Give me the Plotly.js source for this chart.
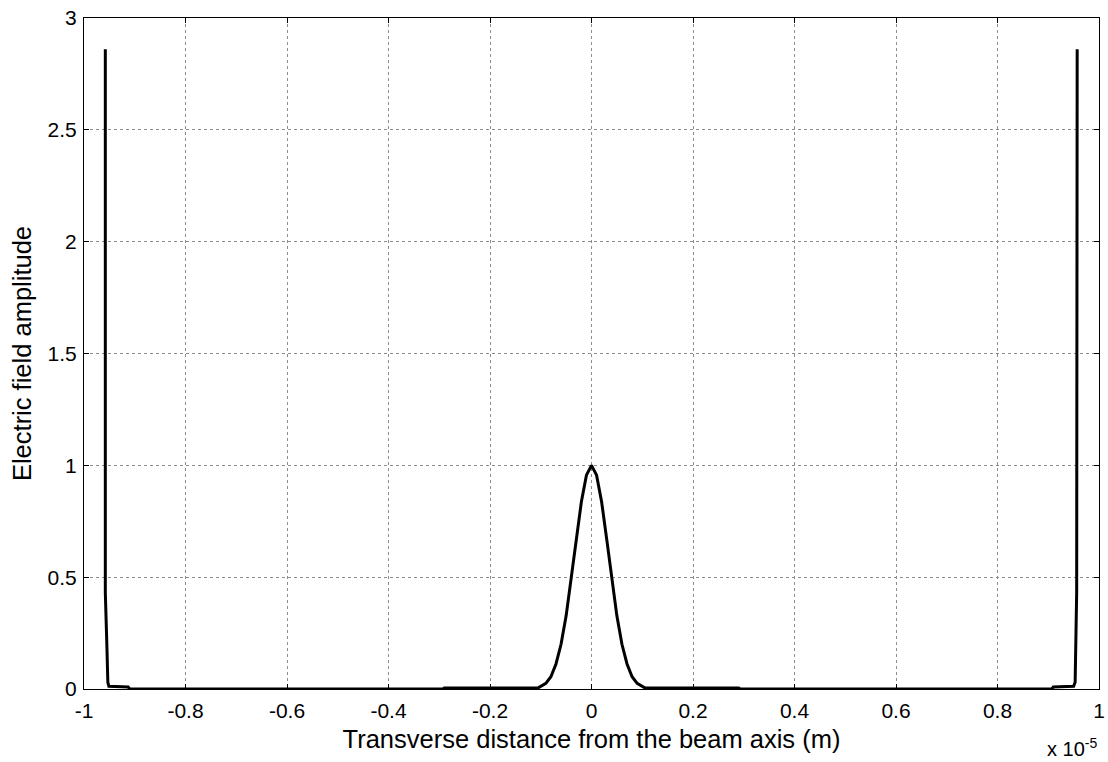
<!DOCTYPE html>
<html>
<head>
<meta charset="utf-8">
<script src="https://cdn.plot.ly/plotly-3.0.1.min.js"></script>
<style>html,body{margin:0;padding:0;background:#fff;}#chart{width:1108px;height:762px;}</style>
</head>
<body>
<div id="chart"></div>
<script>
// Transverse distance in units of 1e-5 m
const xValues = [
  -0.958, -0.958, -0.955, -0.953, -0.951, -0.930, -0.913, -0.910,
  -0.293, -0.290, -0.200, -0.105,
  -0.090, -0.080, -0.070, -0.060, -0.050, -0.040, -0.030, -0.020, -0.010, 0.000,
  0.010, 0.020, 0.030, 0.040, 0.050, 0.060, 0.070, 0.080, 0.090,
  0.105, 0.200, 0.290, 0.293,
  0.907, 0.910, 0.930, 0.950, 0.953, 0.956, 0.957
];
// Electric field amplitude
const yValues = [
  2.86, 0.43, 0.20, 0.03, 0.012, 0.010, 0.009, 0.0,
  0.0, 0.005, 0.005, 0.005,
  0.025, 0.055, 0.112, 0.200, 0.327, 0.489, 0.669, 0.836, 0.956, 1.000,
  0.956, 0.836, 0.669, 0.489, 0.327, 0.200, 0.112, 0.055, 0.025,
  0.005, 0.005, 0.005, 0.0,
  0.0, 0.009, 0.010, 0.012, 0.03, 0.43, 2.86
];
const xTickVals = [-1, -0.8, -0.6, -0.4, -0.2, 0, 0.2, 0.4, 0.6, 0.8, 1];
const xTickText = ["-1", "-0.8", "-0.6", "-0.4", "-0.2", "0", "0.2", "0.4", "0.6", "0.8", "1"];
const yTickVals = [0, 0.5, 1, 1.5, 2, 2.5, 3];
const yTickText = ["0", "0.5", "1", "1.5", "2", "2.5", "3"];

const fontFam = '"Liberation Sans", Arial, sans-serif';

const trace = {
  x: xValues,
  y: yValues,
  type: 'scatter',
  mode: 'lines',
  line: {color: '#000000', width: 3},
  hoverinfo: 'skip'
};

const axisCommon = {
  showline: true,
  linecolor: '#000000',
  linewidth: 1,
  mirror: 'ticks',
  ticks: 'inside',
  ticklen: 5,
  tickcolor: '#000000',
  showgrid: true,
  gridcolor: '#8c8c8c',
  griddash: 'dot',
  gridwidth: 1,
  zeroline: false,
  tickfont: {family: fontFam, size: 21, color: '#000000'}
};

const layout = {
  width: 1108,
  height: 762,
  paper_bgcolor: '#ffffff',
  plot_bgcolor: '#ffffff',
  margin: {l: 84, r: 9, t: 18, b: 73},
  showlegend: false,
  font: {family: fontFam, color: '#000000'},
  xaxis: Object.assign({}, axisCommon, {
    range: [-1, 1],
    tickmode: 'array',
    tickvals: xTickVals,
    ticktext: xTickText,
    ticklabelstandoff: 3,
    automargin: false,
    title: {text: 'Transverse distance from the beam axis (m)', font: {family: fontFam, size: 25.5, color: '#000000'}, standoff: 8}
  }),
  yaxis: Object.assign({}, axisCommon, {
    range: [0, 3],
    tickmode: 'array',
    tickvals: yTickVals,
    ticktext: yTickText,
    ticklabelstandoff: 2,
    automargin: false,
    title: {text: 'Electric field amplitude', font: {family: fontFam, size: 25.5, color: '#000000'}, standoff: 8}
  }),
  annotations: [{
    text: 'x 10<sup>-5</sup>',
    xref: 'paper', yref: 'paper',
    x: 1.0, y: 0, xanchor: 'right', yanchor: 'top',
    yshift: -44,
    showarrow: false,
    font: {family: fontFam, size: 20, color: '#000000'}
  }]
};

Plotly.newPlot('chart', [trace], layout, {displayModeBar: false, staticPlot: true});
</script>
</body>
</html>
